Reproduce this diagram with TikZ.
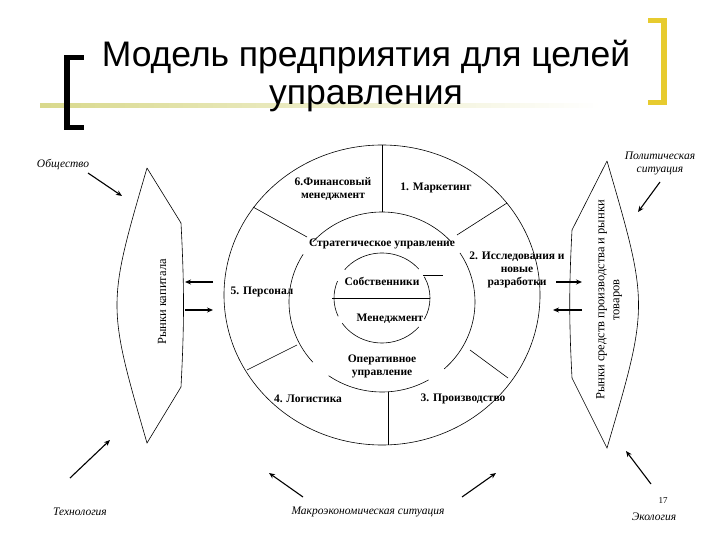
\documentclass[tikz,border=0pt]{standalone}
\usepackage{fontspec}
\setmainfont{Liberation Serif}
\newfontfamily\titlefont{Liberation Sans}
\usetikzlibrary{arrows.meta,calc}
\begin{document}
\begin{tikzpicture}[x=1pt,y=-1pt,
  lbl/.style={font=\bfseries\fontsize{11.5}{13}\selectfont,align=center,inner sep=1pt},
  env/.style={font=\itshape\fontsize{11.5}{13}\selectfont,align=center,inner sep=1pt},
  rot/.style={font=\fontsize{12.5}{15}\selectfont,align=center,rotate=90,inner sep=1pt},
  ln/.style={line width=0.6pt},
  arr/.style={line width=1.1pt,-{Stealth[length=6pt,width=5pt]}}]
\useasboundingbox (0,0) rectangle (720,540);
% title
\shade[left color=olive!30,right color=white] (40,104) rectangle (600,108);
\fill[black] (64,55) rectangle (70,130);
\fill[black] (64,55) rectangle (84,60);
\fill[black] (64,125) rectangle (84,130);
\fill[yellow!60!brown] (661,18) rectangle (667,105);
\fill[yellow!60!brown] (648,18) rectangle (667,23);
\fill[yellow!60!brown] (648,100) rectangle (667,105);
\node (t1) at (366,57) {\titlefont\fontsize{35.5}{40}\selectfont Модель предприятия для целей};
\node (t2) at (366,99) {\titlefont\fontsize{35.5}{40}\selectfont управления};
% circles
\coordinate (c) at (382,295);
\coordinate (m) at (382,302);
\coordinate (i) at (382,298);
\draw[ln] (c) ellipse [x radius=158,y radius=150];
\foreach \a/\b in {42/138,148/222,235/300,-48/33}
  \draw[ln] ($(m)+(-\a:93 and 90)$) arc[start angle=-\a,end angle=-\b,x radius=93,y radius=90];
\foreach \a/\b in {40/141,158/204,214/320,-28/28}
  \draw[ln] ($(i)+(-\a:48 and 45)$) arc[start angle=-\a,end angle=-\b,x radius=48,y radius=45];
\draw[ln] (332,298) -- (430,298);
\draw[ln] (423,275) -- (443,275);
% dividers
\draw[ln] (382,145) -- (382,212);
\draw[ln] (388,392) -- (388,445);
\draw[ln] (253,207) -- (307,237);
\draw[ln] (507,203) -- (457,235);
\draw[ln] (247,370) -- (297,345);
\draw[ln] (470,350) -- (508,378);
% labels
\node[lbl] (fin) at (333,189) {6.Финансовый\\менеджмент};
\node[lbl] (mar) at (436,188) {1. Маркетинг};
\node[lbl] (str) at (382,244) {Стратегическое управление};
\node[lbl] (res) at (517,270) {2. Исследования и\\новые\\разработки};
\node[lbl] (own) at (382,281) {Собственники};
\node[lbl] (per) at (262,292) {5. Персонал};
\node[lbl] (men) at (390,319) {Менеджмент};
\node[lbl] (ope) at (382,366) {Оперативное\\управление};
\node[lbl] (log) at (308,399) {4. Логистика};
\node[lbl] (pro) at (463,399) {3. Производство};
% side shapes
\draw[ln] (147,168) -- (181,223) to[bend left=3] (181,387) -- (147,443) .. controls (107,305) .. (147,168);
\node[rot] (cap) at (162,302) {Рынки капитала};
\draw[ln] (607,161) -- (572,230) to[bend right=3] (572,378) -- (607,448) .. controls (649,305) .. (607,161);
\node[rot] (gds) at (609,300) {Рынки средств производства и рынки\\товаров};
% arrows
\coordinate (la1) at (213,282); \coordinate (la2) at (185,282);
\coordinate (lb1) at (185,310); \coordinate (lb2) at (213,310);
\draw[arr] (la1) -- (la2);
\draw[arr] (lb1) -- (lb2);
\coordinate (ra1) at (556,282); \coordinate (ra2) at (582,282);
\coordinate (rb1) at (582,310); \coordinate (rb2) at (553,310);
\draw[arr] (ra1) -- (ra2);
\draw[arr] (rb1) -- (rb2);
% environment
\node[env] (obs) at (63,165) {Общество};
\coordinate (obsA) at (122,196);
\draw[arr] (88,173) -- (obsA);
\node[env] (tec) at (80,512) {Технология};
\coordinate (tecA) at (110,440);
\draw[arr] (70,478) -- (tecA);
\node[env] (pol) at (660,163) {Политическая\\ситуация};
\coordinate (polA) at (638,212);
\draw[arr] (660,182) -- (polA);
\node[font=\fontsize{9}{10}\selectfont] (num) at (663,501) {17};
\node[env] (eco) at (654,517) {Экология};
\coordinate (ecoA) at (626,451);
\draw[arr] (651,484) -- (ecoA);
\node[env] (mac) at (368,512) {Макроэкономическая ситуация};
\coordinate (macA) at (269,473); \coordinate (macB) at (496,473);
\draw[arr] (303,497) -- (macA);
\draw[arr] (462,497) -- (macB);
\end{tikzpicture}
\end{document}
